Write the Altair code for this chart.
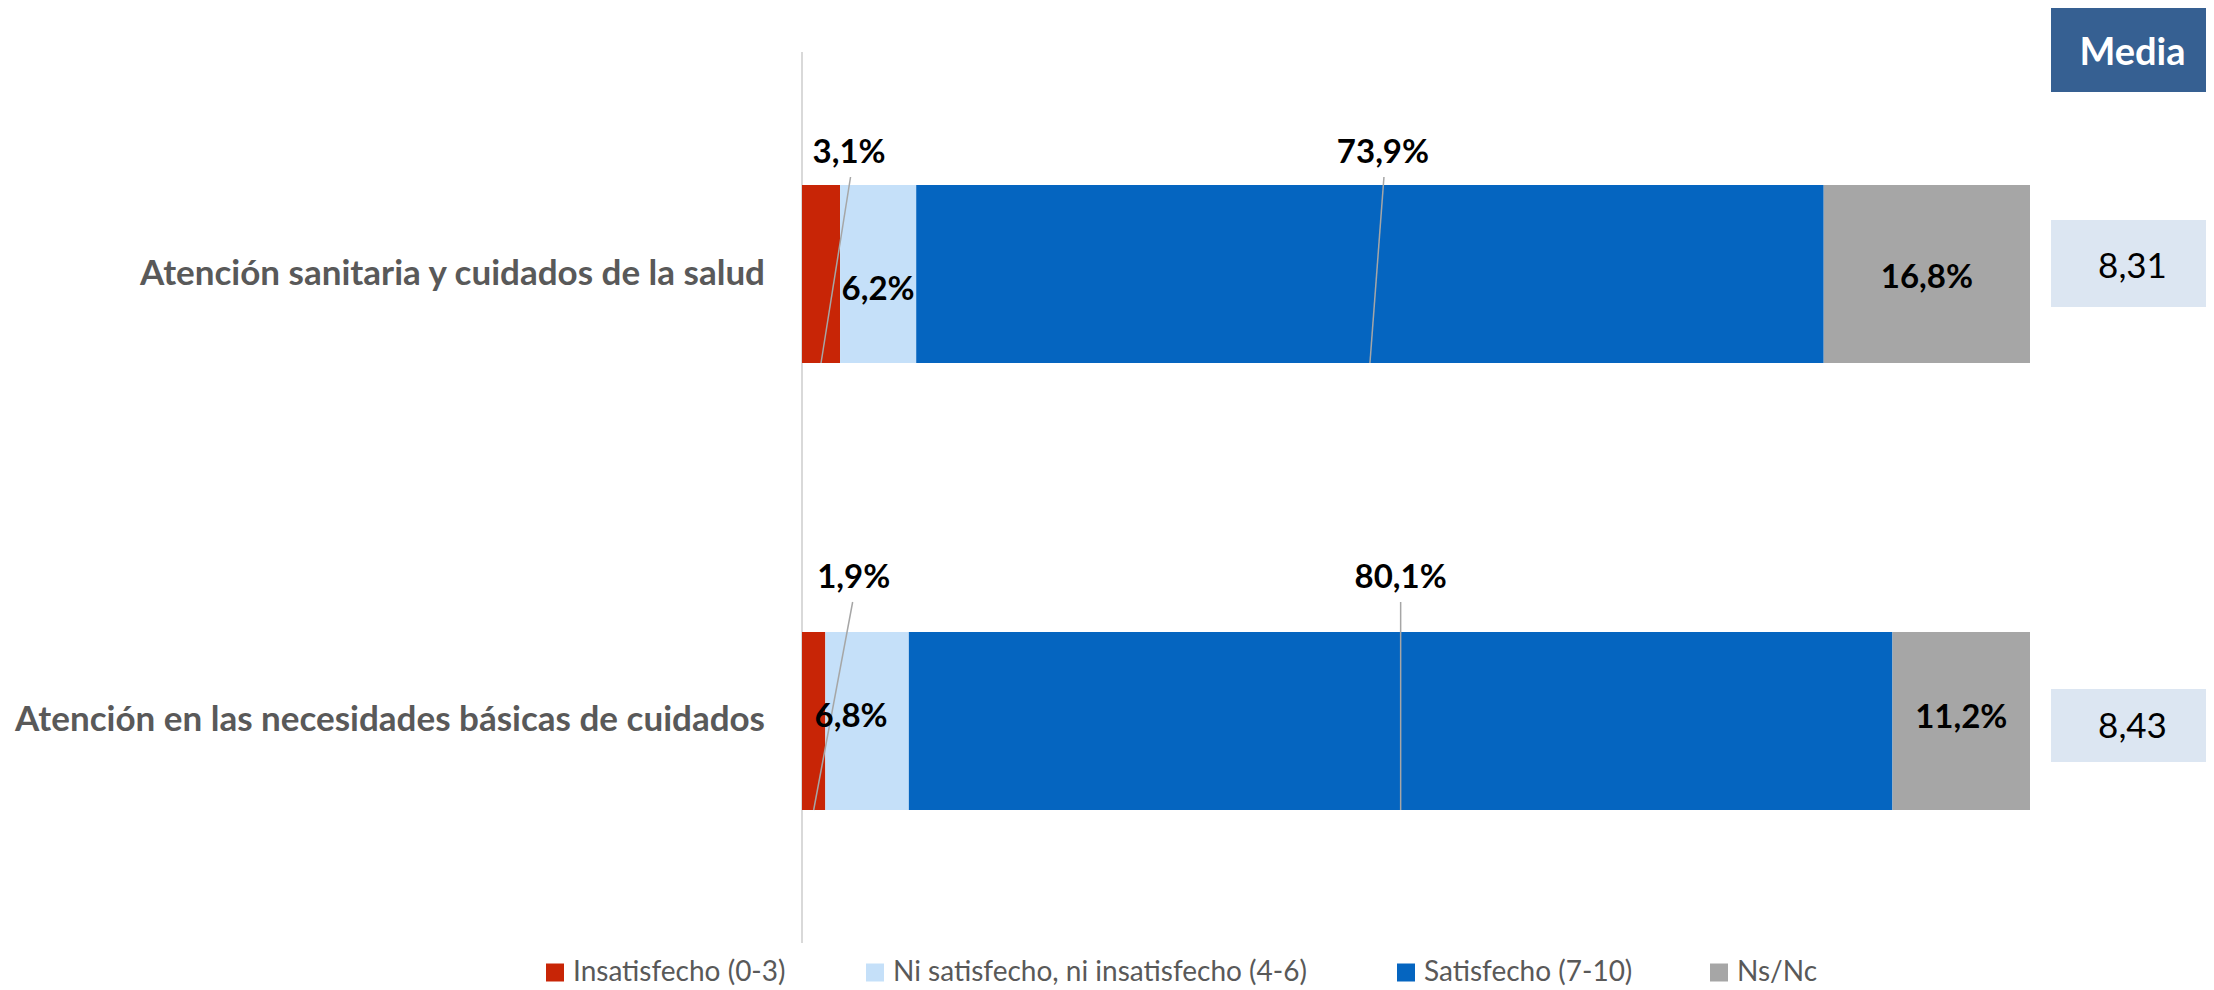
import altair as alt
import pandas as pd

# ---------------- data ----------------
categories = [
    "Atención sanitaria y cuidados de la salud",
    "Atención en las necesidades básicas de cuidados",
]
series = [
    "Insatisfecho (0-3)",
    "Ni satisfecho, ni insatisfecho (4-6)",
    "Satisfecho (7-10)",
    "Ns/Nc",
]
values_row0 = [3.1, 6.2, 73.9, 16.8]
values_row1 = [1.9, 6.8, 80.1, 11.2]
media_values = [8.31, 8.43]
media_title = "Media"

# ---------------- style ----------------
colors = ["#C82506", "#C5E0F9", "#0565C0", "#A6A6A6"]
FONT = "Lato"
GREY_TEXT = "#595959"

W, H = 2198, 980
AXIS_PX, FULL_PX = 794, 1228
ROW0_PX, ROW_STEP_PX, BAR_HALF_PX = 266, 447, 89
KX = FULL_PX / 100.0
X_DOMAIN = [-AXIS_PX / KX, (W - AXIS_PX) / KX]
Y_DOMAIN = [-ROW0_PX / ROW_STEP_PX, (H - ROW0_PX) / ROW_STEP_PX]


def ux(px):
    return px / KX


def uy(px):
    return px / ROW_STEP_PX


def px_to_x(px):
    return ux(px - AXIS_PX)


def px_to_y(py):
    return Y_DOMAIN[0] + uy(py)


LABEL_OFF = {(0, 0): (28, -111), (0, 1): (0, 26), (0, 2): (13, -111), (0, 3): (0, 14),
             (1, 0): (40, -133), (1, 1): (-16, 6), (1, 2): (0, -133), (1, 3): (0, 7)}
LEADERS = {(0, 0): (29.5, -97), (0, 2): (14, -97), (1, 0): (39, -119), (1, 2): (0, -119)}
CAT_DY = [11, 10]
BOX_OFF = [(-54, 33), (-32, 41)]
MEDIA_DY = [4, 17]
LEGEND_SYMBOL_PX = [538, 858, 1389, 1702]
LEGEND_CENTER_PX = 964.5
LEGEND_BASELINE_PX = 973


def fmt_pct(v):
    return f"{v:.1f}".replace(".", ",") + "%"


bars, labels, leaders = [], [], []
for r, vals in enumerate([values_row0, values_row1]):
    start = 0.0
    for s, v in enumerate(vals):
        end = start + v
        mid = (start + end) / 2
        bars.append(dict(category=categories[r], series=series[s], value=v,
                         x0=start, x1=end,
                         y0=r - uy(BAR_HALF_PX), y1=r + uy(BAR_HALF_PX)))
        dx, dy = LABEL_OFF[(r, s)]
        labels.append(dict(label=fmt_pct(v), lx=mid + ux(dx), ly=r + uy(dy)))
        if (r, s) in LEADERS:
            ldx, ldy = LEADERS[(r, s)]
            leaders.append(dict(xa=mid + ux(ldx), ya=r + uy(ldy),
                                xb=mid, yb=r + uy(BAR_HALF_PX)))
        start = end

bars_df = pd.DataFrame(bars)
labels_df = pd.DataFrame(labels)
leaders_df = pd.DataFrame(leaders)
cat_df = pd.DataFrame({"category": categories,
                       "ly": [r + uy(CAT_DY[r]) for r in range(len(categories))]})

BOX_X0 = px_to_x(2043)
BOX_X1 = X_DOMAIN[1]
TEXT_X = px_to_x(2124.5)
media_df = pd.DataFrame({
    "txt": [f"{m:.2f}".replace(".", ",") for m in media_values],
    "y0": [r + uy(BOX_OFF[r][0]) for r in range(len(media_values))],
    "y1": [r + uy(BOX_OFF[r][1]) for r in range(len(media_values))],
    "ty": [r + uy(MEDIA_DY[r]) for r in range(len(media_values))],
    "x0": [BOX_X0] * len(media_values),
    "x1": [BOX_X1] * len(media_values),
    "tx": [TEXT_X] * len(media_values),
})
head_df = pd.DataFrame({
    "txt": [media_title],
    "y0": [Y_DOMAIN[0]], "y1": [px_to_y(84)], "ty": [px_to_y(57)],
    "x0": [BOX_X0], "x1": [BOX_X1], "tx": [TEXT_X],
})
axis_df = pd.DataFrame({"x": [0.0], "ya": [px_to_y(44)], "yb": [px_to_y(935)]})
legend_df = pd.DataFrame({
    "series": series,
    "sx": [px_to_x(p + 9) for p in LEGEND_SYMBOL_PX],
    "sy": [px_to_y(LEGEND_CENTER_PX)] * len(series),
    "tx": [px_to_x(p + 27) for p in LEGEND_SYMBOL_PX],
    "ty": [px_to_y(LEGEND_BASELINE_PX)] * len(series),
})

xs = alt.Scale(domain=X_DOMAIN, nice=False, zero=False)
ys = alt.Scale(domain=Y_DOMAIN, nice=False, zero=False, reverse=True)
cs = alt.Scale(domain=series, range=colors)
XA = dict(scale=xs, axis=None)
YA = dict(scale=ys, axis=None)

bar = alt.Chart(bars_df).mark_bar().encode(
    x=alt.X("x0:Q", **XA),
    x2="x1:Q",
    y=alt.Y("y0:Q", **YA),
    y2="y1:Q",
    color=alt.Color("series:N", scale=cs, legend=None),
)

axis_line = alt.Chart(axis_df).mark_rule(color="#D9D9D9", strokeWidth=2).encode(
    x=alt.X("x:Q", **XA), y=alt.Y("ya:Q", **YA), y2="yb:Q")

leader = alt.Chart(leaders_df).mark_rule(color="#A6A6A6", strokeWidth=1.5).encode(
    x=alt.X("xa:Q", **XA), x2="xb:Q",
    y=alt.Y("ya:Q", **YA), y2="yb:Q",
)

pct = alt.Chart(labels_df).mark_text(
    font=FONT, fontSize=33, fontWeight="bold", color="#000000",
    align="center", baseline="alphabetic",
).encode(x=alt.X("lx:Q", **XA), y=alt.Y("ly:Q", **YA), text="label:N")

cats = alt.Chart(cat_df).mark_text(
    font=FONT, fontSize=35, fontWeight="bold", color=GREY_TEXT,
    align="right", baseline="alphabetic",
).encode(x=alt.value(757), y=alt.Y("ly:Q", **YA), text="category:N")

media_box = alt.Chart(media_df).mark_rect(color="#DCE6F2").encode(
    x=alt.X("x0:Q", **XA), x2="x1:Q", y=alt.Y("y0:Q", **YA), y2="y1:Q")
media_txt = alt.Chart(media_df).mark_text(
    font=FONT, fontSize=35, color="#000000", align="center", baseline="alphabetic"
).encode(x=alt.X("tx:Q", **XA), y=alt.Y("ty:Q", **YA), text="txt:N")

head_box = alt.Chart(head_df).mark_rect(color="#366092").encode(
    x=alt.X("x0:Q", **XA), x2="x1:Q", y=alt.Y("y0:Q", **YA), y2="y1:Q")
head_txt = alt.Chart(head_df).mark_text(
    font=FONT, fontSize=38, fontWeight="bold", color="#FFFFFF",
    align="center", baseline="alphabetic"
).encode(x=alt.X("tx:Q", **XA), y=alt.Y("ty:Q", **YA), text="txt:N")

legend_sym = alt.Chart(legend_df).mark_square(size=324, opacity=1, strokeWidth=0).encode(
    x=alt.X("sx:Q", **XA), y=alt.Y("sy:Q", **YA),
    color=alt.Color("series:N", scale=cs, legend=None),
)
legend_txt = alt.Chart(legend_df).mark_text(
    font=FONT, fontSize=28, color=GREY_TEXT, align="left", baseline="alphabetic"
).encode(x=alt.X("tx:Q", **XA), y=alt.Y("ty:Q", **YA), text="series:N")

chart = alt.layer(
    axis_line, bar, leader, pct, cats, media_box, media_txt, head_box, head_txt,
    legend_sym, legend_txt,
).properties(width=W, height=H, padding=0).configure_view(strokeWidth=0)

chart.save("out.html", embed_options={"renderer": "svg", "actions": False})
